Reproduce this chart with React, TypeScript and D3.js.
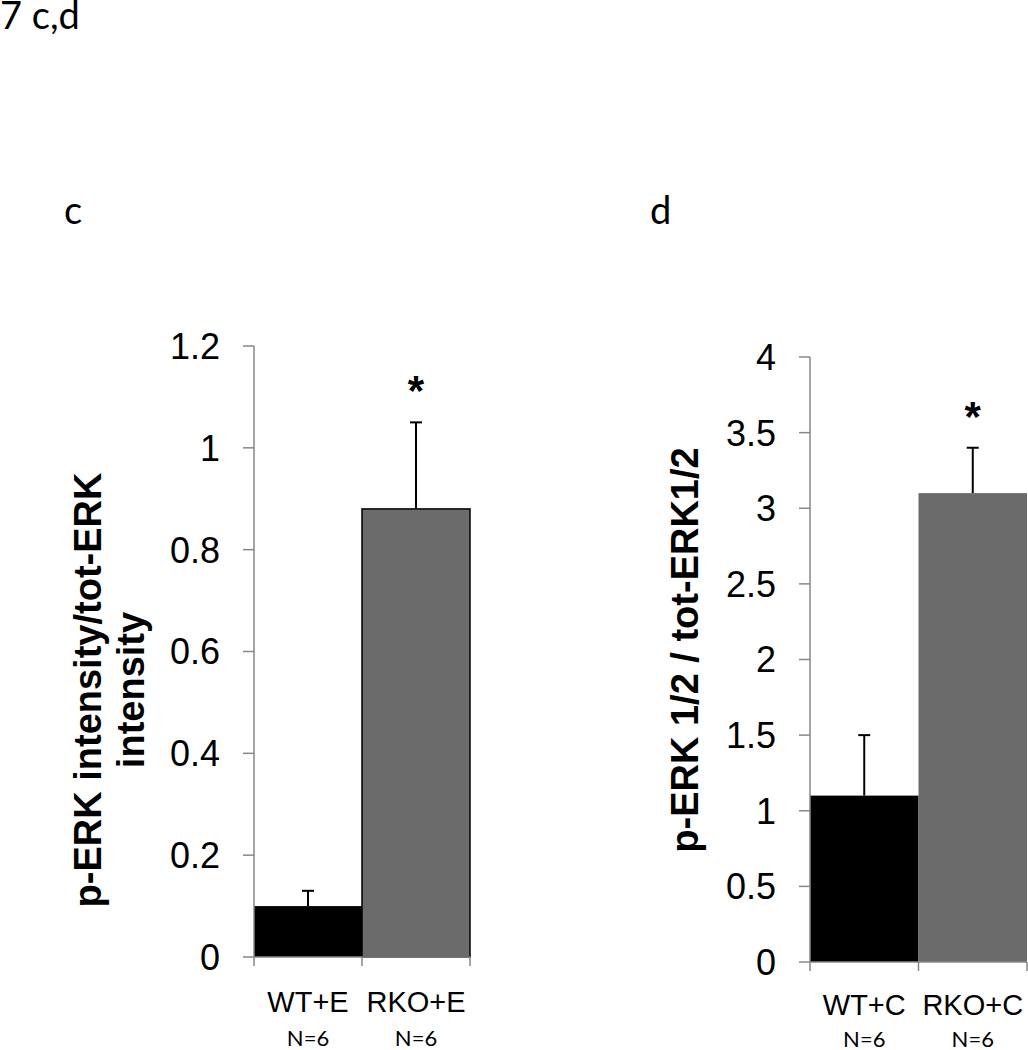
import React from "react";
import * as d3 from "d3";

const catsC = ["WT+E", "RKO+E"];
const valsC = [0.1, 0.88];
const errC = [0.03, 0.17];
const ticksC = [0, 0.2, 0.4, 0.6, 0.8, 1, 1.2];
const nC = ["N=6", "N=6"];

const catsD = ["WT+C", "RKO+C"];
const valsD = [1.1, 3.1];
const errD = [0.4, 0.3];
const ticksD = [0, 0.5, 1, 1.5, 2, 2.5, 3, 3.5, 4];
const nD = ["N=6", "N=6"];

const AXIS = "#878787";
const SANS = "'Liberation Sans', Arial, sans-serif";
const CAL = "Lato, 'Open Sans', sans-serif";

type PanelProps = {
  cats: string[];
  vals: number[];
  errs: number[];
  ticks: number[];
  ns: string[];
  x0: number;
  x1: number;
  y0: number;
  y1: number;
  ymax: number;
  fills: string[];
  strokes: (string | null)[];
  labelLines: string[];
  labelX: number[];
  labelY: number;
  catY: number;
  nY: number;
  fmt: (v: number) => string;
};

function Panel(p: PanelProps) {
  const x = d3.scaleBand<string>().domain(p.cats).range([p.x0, p.x1]).padding(0);
  const y = d3.scaleLinear().domain([0, p.ymax]).range([p.y0, p.y1]);
  const bw = x.bandwidth();
  const edges = [...p.cats.map((c) => x(c) as number), p.x1];
  return (
    <g>
      {p.cats.map((c, i) => (
        <rect
          key={"b" + i}
          x={x(c)}
          y={y(p.vals[i])}
          width={bw}
          height={y(0) - y(p.vals[i])}
          fill={p.fills[i]}
          stroke={p.strokes[i] ?? "none"}
          strokeWidth={1.5}
        />
      ))}
      {p.cats.map((c, i) => {
        const cx = (x(c) as number) + bw / 2;
        const top = y(p.vals[i] + p.errs[i]);
        return (
          <g key={"e" + i} stroke="#000" strokeWidth={2}>
            <line x1={cx} x2={cx} y1={y(p.vals[i])} y2={top} />
            <line x1={cx - 6} x2={cx + 6} y1={top} y2={top} />
          </g>
        );
      })}
      {/* y axis */}
      <line x1={p.x0} x2={p.x0} y1={y(0)} y2={y(p.ymax)} stroke={AXIS} strokeWidth={1.5} />
      {p.ticks.map((t, i) => (
        <g key={"t" + i}>
          <line x1={p.x0 - 11} x2={p.x0} y1={y(t)} y2={y(t)} stroke={AXIS} strokeWidth={1.5} />
          <text
            x={p.x0 - 34}
            y={y(t)}
            dy="0.36em"
            textAnchor="end"
            fontFamily={SANS}
            fontSize={36}
            fill="#000"
          >
            {p.fmt(t)}
          </text>
        </g>
      ))}
      {/* x axis */}
      <line x1={p.x0} x2={p.x1} y1={y(0)} y2={y(0)} stroke={AXIS} strokeWidth={1.5} />
      {edges.map((e, i) => (
        <line key={"xt" + i} x1={e} x2={e} y1={y(0)} y2={y(0) + 9} stroke={AXIS} strokeWidth={1.5} />
      ))}
      {p.cats.map((c, i) => (
        <text
          key={"cl" + i}
          x={(x(c) as number) + bw / 2}
          y={p.catY}
          textAnchor="middle"
          fontFamily={SANS}
          fontSize={29}
          fill="#000"
        >
          {c}
        </text>
      ))}
      {p.ns.map((n, i) => (
        <text
          key={"n" + i}
          x={(x(p.cats[i]) as number) + bw / 2}
          y={p.nY}
          textAnchor="middle"
          fontFamily={CAL}
          fontSize={22}
          fill="#000"
        >
          {n}
        </text>
      ))}
      {/* significance */}
      <text
        x={(x(p.cats[1]) as number) + bw / 2}
        y={y(p.vals[1] + p.errs[1]) - 17}
        textAnchor="middle"
        fontFamily={SANS}
        fontWeight="bold"
        fontSize={42}
        fill="#000"
      >
        *
      </text>
      {/* y label */}
      {p.labelLines.map((l, i) => (
        <text
          key={"yl" + i}
          transform={`translate(${p.labelX[i]},${p.labelY}) rotate(-90)`}
          textAnchor="middle"
          fontFamily={SANS}
          fontWeight="bold"
          fontSize={38}
          fill="#000"
        >
          {l}
        </text>
      ))}
    </g>
  );
}

export default function App() {
  const fmt = (v: number) => d3.format("~g")(v);
  return (
    <svg
      width={1028}
      height={1050}
      style={{ position: "absolute", left: 0, top: 0, background: "#fff" }}
    >
      <rect x={0} y={0} width={1028} height={1050} fill="#fff" />
      <text x={0} y={29} fontFamily={CAL} fontSize={38} fill="#000">
        7 c,d
      </text>
      <text x={64} y={224} fontFamily={CAL} fontSize={38} fill="#000">
        c
      </text>
      <text x={650} y={224} fontFamily={CAL} fontSize={38} fill="#000">
        d
      </text>
      <Panel
        cats={catsC}
        vals={valsC}
        errs={errC}
        ticks={ticksC}
        ns={nC}
        x0={254}
        x1={470}
        y0={957}
        y1={346}
        ymax={1.2}
        fills={["#000", "#6b6b6b"]}
        strokes={[null, "#000"]}
        labelLines={["p-ERK intensity/tot-ERK", "intensity"]}
        labelX={[101, 144]}
        labelY={690}
        catY={1012}
        nY={1046}
        fmt={fmt}
      />
      <Panel
        cats={catsD}
        vals={valsD}
        errs={errD}
        ticks={ticksD}
        ns={nD}
        x0={810}
        x1={1027}
        y0={962}
        y1={357}
        ymax={4}
        fills={["#000", "#6b6b6b"]}
        strokes={[null, null]}
        labelLines={["p-ERK 1/2 / tot-ERK1/2"]}
        labelX={[698]}
        labelY={650}
        catY={1015}
        nY={1047}
        fmt={fmt}
      />
    </svg>
  );
}
